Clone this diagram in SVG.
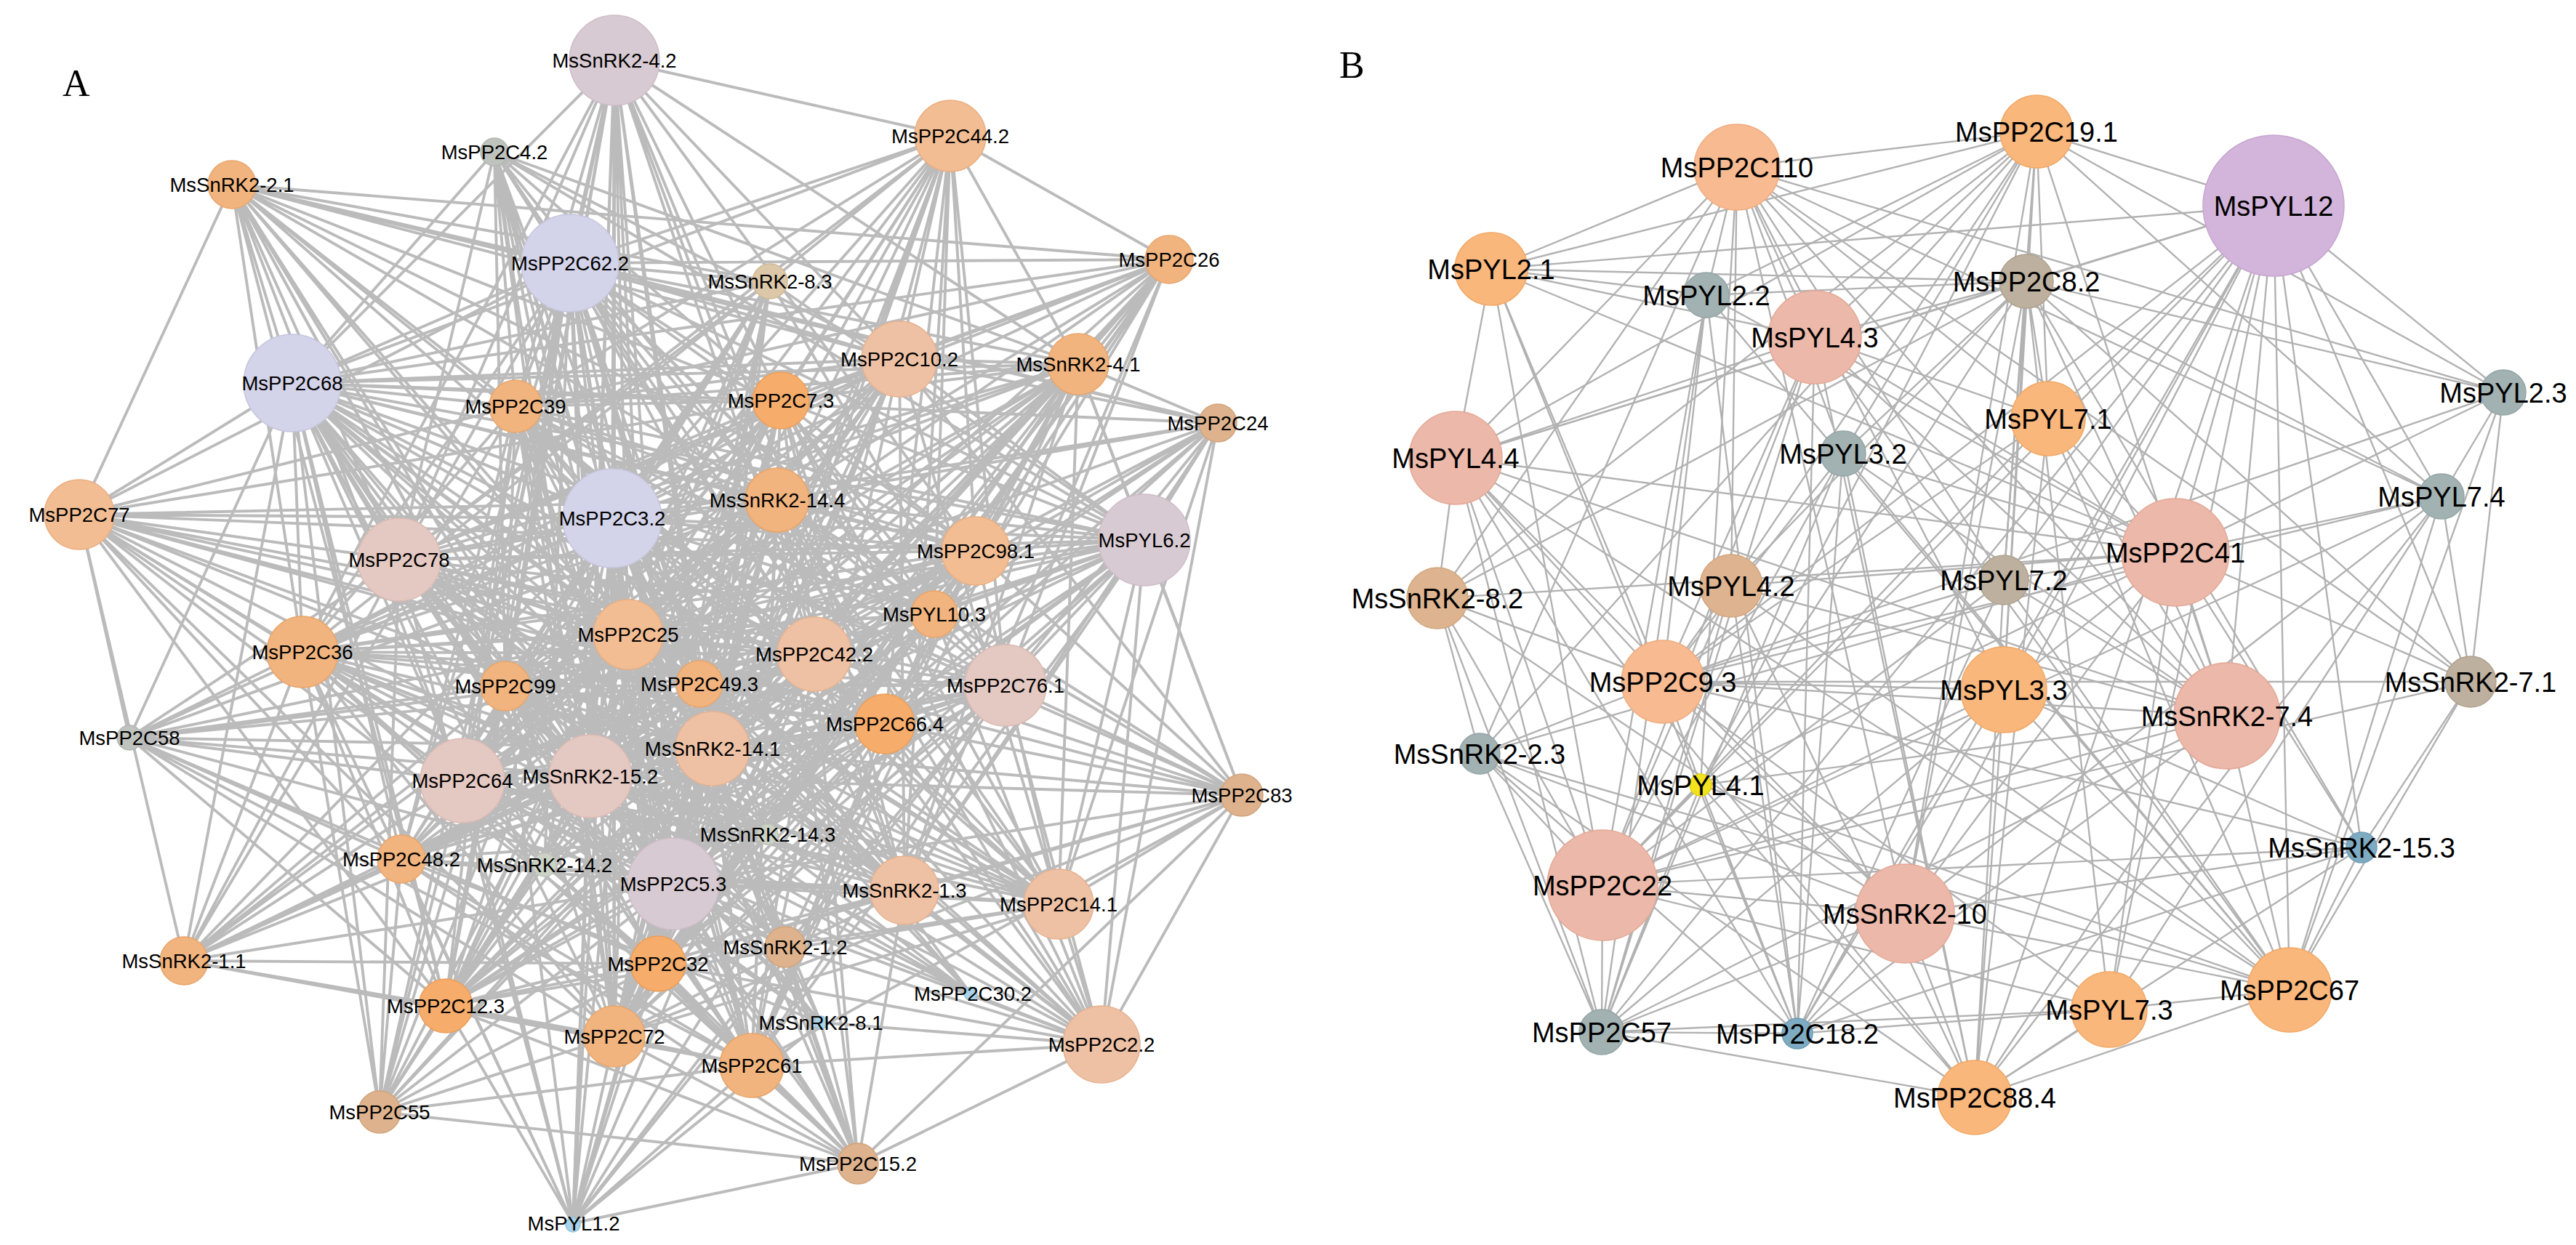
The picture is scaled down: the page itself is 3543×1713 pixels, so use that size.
<svg xmlns="http://www.w3.org/2000/svg" width="3543" height="1713" viewBox="0 0 3543 1713">
<style>
.ea{fill:none;stroke:#BBBBBB;stroke-width:3.9;stroke-linecap:round}
.eb{fill:none;stroke:#B2B2B2;stroke-width:2.4;stroke-linecap:round}
text{font-family:"Liberation Sans",Arial,sans-serif;fill:#000;text-anchor:middle}
.la text{font-size:27.5px}
.lb text{font-size:38px}
.panel{font-family:"Liberation Serif","Times New Roman",serif;font-size:52px;text-anchor:start}
circle{stroke-width:1.5}
.li{fill:#D8CAD2;stroke:#CDBCC6}
.la1{fill:#D3D3E9;stroke:#C6C6DE}
.pk{fill:#E4C8C2;stroke:#DBBAB3}
.pe{fill:#EEC1A4;stroke:#E6B290}
.po{fill:#F2BD93;stroke:#EAAE80}
.or{fill:#F1B47E;stroke:#E8A56C}
.os{fill:#F6AC6A;stroke:#EC9E5A}
.tn{fill:#DDB28D;stroke:#D2A47C}
.tl{fill:#DCC7A9;stroke:#CFB997}
.gy{fill:#BFC3BD;stroke:#B2B7B0}
.gg{fill:#CCD2C6;stroke:#C0C7B9}
.bl{fill:#A9D3EA;stroke:#95C4DE}
.blo{fill:#F7BA91;stroke:#F0AC7E}
.bor{fill:#F9B77C;stroke:#F1A866}
.bpk{fill:#ECB8A9;stroke:#E3A896}
.bgb{fill:#A2B1B1;stroke:#94A4A4}
.btp{fill:#BDB09F;stroke:#AFA18E}
.btn{fill:#DDB48F;stroke:#D1A57E}
.blv{fill:#D3B5DB;stroke:#C6A5CF}
.bbl{fill:#7EABC2;stroke:#6D9DB6}
.bye{fill:#F2E31E;stroke:#E5D40E}
</style>
<rect width="3543" height="1713" fill="#FFFFFF"/>
<text class="panel" x="86" y="132">A</text>
<text class="panel" x="1842" y="107">B</text>
<g id="connectors">
<g id="edges-A">
<path class="ea" d="M845 83L1307 187M845 83L784 362M845 83L402 527M845 83L709 559M845 83L1074 551M845 83L1237 494M845 83L1483 501M845 83L842 713M845 83L1069 688M845 83L1342 758M845 83L549 770M845 83L864 873M845 83L416 897M845 83L695 944M845 83L962 941M845 83L1120 900M845 83L980 1030M845 83L1217 996M845 83L636 1074M845 83L812 1068M845 83L926 1216M845 83L905 1326M845 83L613 1384M845 83L845 1426M845 83L1034 1466M845 83L522 1530M845 83L788 1683"/>
<path class="ea" d="M680 209L784 362M680 209L402 527M680 209L709 559M680 209L1074 551M680 209L1237 494M680 209L1483 501M680 209L842 713M680 209L1069 688M680 209L549 770M680 209L864 873M680 209L695 944M680 209L1120 900M680 209L980 1030M680 209L812 1068M680 209L926 1216M680 209L905 1326M680 209L845 1426M680 209L1034 1466M680 209L1574 743"/>
<path class="ea" d="M1307 187L784 362M1307 187L1059 387M1307 187L402 527M1307 187L709 559M1307 187L1074 551M1307 187L1237 494M1307 187L1483 501M1307 187L842 713M1307 187L1069 688M1307 187L1342 758M1307 187L549 770M1307 187L864 873M1307 187L1285 845M1307 187L1120 900M1307 187L1383 943M1307 187L980 1030M1307 187L1217 996M1307 187L636 1074M1307 187L812 1068M1307 187L926 1216M1307 187L1244 1225M1307 187L905 1326M1307 187L1608 357"/>
<path class="ea" d="M319 254L109 708M319 254L784 362M319 254L1608 357M319 254L402 527M319 254L709 559M319 254L1074 551M319 254L1237 494M319 254L842 713M319 254L1069 688M319 254L1342 758M319 254L549 770M319 254L864 873M319 254L416 897M319 254L695 944M319 254L1120 900M319 254L980 1030M319 254L636 1074M319 254L812 1068M319 254L926 1216M319 254L905 1326M319 254L613 1384M319 254L1059 387M319 254L1675 582"/>
<path class="ea" d="M1608 357L784 362M1608 357L402 527M1608 357L1074 551M1608 357L1237 494M1608 357L1483 501M1608 357L842 713M1608 357L1069 688M1608 357L1342 758M1608 357L864 873M1608 357L1285 845M1608 357L1120 900M1608 357L1383 943M1608 357L980 1030M1608 357L1217 996M1608 357L812 1068M1608 357L926 1216M1608 357L1244 1225M1608 357L905 1326M1608 357L845 1426M1608 357L549 770M1608 357L709 559"/>
<path class="ea" d="M1675 582L1237 494M1675 582L1483 501M1675 582L842 713M1675 582L1069 688M1675 582L1342 758M1675 582L1574 743M1675 582L864 873M1675 582L1285 845M1675 582L1120 900M1675 582L1383 943M1675 582L980 1030M1675 582L1217 996M1675 582L926 1216M1675 582L1244 1225M1675 582L1456 1244M1675 582L1515 1437M1675 582L402 527M1675 582L784 362"/>
<path class="ea" d="M109 708L178 1015M109 708L253 1322M109 708L784 362M109 708L402 527M109 708L709 559M109 708L842 713M109 708L1069 688M109 708L549 770M109 708L864 873M109 708L416 897M109 708L695 944M109 708L962 941M109 708L980 1030M109 708L636 1074M109 708L812 1068M109 708L926 1216M109 708L905 1326M109 708L613 1384M109 708L845 1426M109 708L1074 551M109 708L1342 758M109 708L1120 900M109 708L552 1182M109 708L1217 996"/>
<path class="ea" d="M178 1015L402 527M178 1015L842 713M178 1015L549 770M178 1015L864 873M178 1015L416 897M178 1015L695 944M178 1015L962 941M178 1015L980 1030M178 1015L636 1074M178 1015L812 1068M178 1015L926 1216M178 1015L905 1326M178 1015L613 1384M178 1015L845 1426M178 1015L1034 1466M178 1015L552 1182M178 1015L1120 900M178 1015L1069 688"/>
<path class="ea" d="M1708 1094L1574 743M1708 1094L1483 501M1708 1094L842 713M1708 1094L1069 688M1708 1094L1342 758M1708 1094L864 873M1708 1094L1285 845M1708 1094L1120 900M1708 1094L1383 943M1708 1094L980 1030M1708 1094L1217 996M1708 1094L812 1068M1708 1094L926 1216M1708 1094L1244 1225M1708 1094L1456 1244M1708 1094L1515 1437M1708 1094L905 1326M1708 1094L845 1426M1708 1094L1034 1466M1708 1094L1237 494M1708 1094L1180 1601"/>
<path class="ea" d="M253 1322L402 527M253 1322L709 559M253 1322L842 713M253 1322L549 770M253 1322L864 873M253 1322L416 897M253 1322L695 944M253 1322L636 1074M253 1322L812 1068M253 1322L552 1182M253 1322L926 1216M253 1322L905 1326M253 1322L613 1384M253 1322L845 1426M253 1322L1034 1466M253 1322L1120 900M253 1322L980 1030M253 1322L1069 688"/>
<path class="ea" d="M1515 1437L842 713M1515 1437L1069 688M1515 1437L1574 743M1515 1437L864 873M1515 1437L1285 845M1515 1437L1120 900M1515 1437L1383 943M1515 1437L980 1030M1515 1437L1217 996M1515 1437L812 1068M1515 1437L1056 1148M1515 1437L926 1216M1515 1437L1244 1225M1515 1437L1456 1244M1515 1437L905 1326M1515 1437L1080 1303M1515 1437L1335 1367M1515 1437L1129 1407M1515 1437L1034 1466M1515 1437L1180 1601M1515 1437L1074 551M1515 1437L962 941"/>
<path class="ea" d="M522 1530L402 527M522 1530L549 770M522 1530L864 873M522 1530L416 897M522 1530L695 944M522 1530L980 1030M522 1530L636 1074M522 1530L812 1068M522 1530L552 1182M522 1530L926 1216M522 1530L905 1326M522 1530L613 1384M522 1530L845 1426M522 1530L1034 1466M522 1530L1120 900M522 1530L842 713M522 1530L1069 688M522 1530L1180 1601"/>
<path class="ea" d="M1180 1601L842 713M1180 1601L1069 688M1180 1601L864 873M1180 1601L416 897M1180 1601L695 944M1180 1601L1120 900M1180 1601L980 1030M1180 1601L636 1074M1180 1601L812 1068M1180 1601L926 1216M1180 1601L905 1326M1180 1601L613 1384M1180 1601L845 1426M1180 1601L1034 1466M1180 1601L1244 1225M1180 1601L1080 1303M1180 1601L1129 1407M1180 1601L552 1182M1180 1601L788 1683"/>
<path class="ea" d="M788 1683L842 713M788 1683L1069 688M788 1683L549 770M788 1683L864 873M788 1683L416 897M788 1683L695 944M788 1683L1120 900M788 1683L980 1030M788 1683L636 1074M788 1683L812 1068M788 1683L926 1216M788 1683L905 1326M788 1683L613 1384M788 1683L845 1426M788 1683L1034 1466M788 1683L552 1182M788 1683L1217 996M788 1683L1383 943M788 1683L1080 1303M788 1683L1129 1407"/>
<path class="ea" d="M1574 743L784 362M1574 743L402 527M1574 743L1074 551M1574 743L1237 494M1574 743L1483 501M1574 743L842 713M1574 743L1069 688M1574 743L1342 758M1574 743L549 770M1574 743L864 873M1574 743L1285 845M1574 743L416 897M1574 743L695 944M1574 743L962 941M1574 743L1120 900M1574 743L1383 943M1574 743L980 1030M1574 743L1217 996M1574 743L636 1074M1574 743L812 1068M1574 743L552 1182M1574 743L926 1216M1574 743L1244 1225M1574 743L1456 1244M1574 743L905 1326M1574 743L613 1384M1574 743L845 1426M1574 743L1034 1466M1574 743L1059 387M1574 743L709 559"/>
<path class="ea" d="M784 362L1059 387M784 362L402 527M784 362L709 559M784 362L1074 551M784 362L1237 494M784 362L1483 501M784 362L842 713M784 362L1069 688M784 362L1342 758M784 362L549 770M784 362L864 873M784 362L1285 845M784 362L416 897M784 362L695 944M784 362L962 941M784 362L1120 900M784 362L1383 943M784 362L980 1030M784 362L1217 996M784 362L636 1074M784 362L812 1068M784 362L552 1182M784 362L926 1216M784 362L1244 1225M784 362L1456 1244M784 362L905 1326M784 362L613 1384M784 362L845 1426M784 362L1034 1466"/>
<path class="ea" d="M402 527L709 559M402 527L1074 551M402 527L1237 494M402 527L1483 501M402 527L842 713M402 527L1069 688M402 527L1342 758M402 527L549 770M402 527L864 873M402 527L1285 845M402 527L416 897M402 527L695 944M402 527L962 941M402 527L1120 900M402 527L1383 943M402 527L980 1030M402 527L1217 996M402 527L636 1074M402 527L812 1068M402 527L552 1182M402 527L926 1216M402 527L1244 1225M402 527L1456 1244M402 527L905 1326M402 527L613 1384M402 527L845 1426M402 527L1034 1466M402 527L1059 387"/>
<path class="ea" d="M842 713L709 559M842 713L1074 551M842 713L1237 494M842 713L1483 501M842 713L1069 688M842 713L1342 758M842 713L549 770M842 713L864 873M842 713L1285 845M842 713L416 897M842 713L695 944M842 713L962 941M842 713L1120 900M842 713L1383 943M842 713L980 1030M842 713L1217 996M842 713L636 1074M842 713L812 1068M842 713L552 1182M842 713L926 1216M842 713L1244 1225M842 713L1456 1244M842 713L905 1326M842 713L1080 1303M842 713L613 1384M842 713L845 1426M842 713L1034 1466M842 713L1059 387"/>
<path class="ea" d="M926 1216L709 559M926 1216L1074 551M926 1216L1237 494M926 1216L1483 501M926 1216L1069 688M926 1216L1342 758M926 1216L549 770M926 1216L864 873M926 1216L1285 845M926 1216L416 897M926 1216L695 944M926 1216L962 941M926 1216L1120 900M926 1216L1383 943M926 1216L980 1030M926 1216L1217 996M926 1216L636 1074M926 1216L812 1068M926 1216L552 1182M926 1216L1244 1225M926 1216L1456 1244M926 1216L905 1326M926 1216L613 1384M926 1216L845 1426M926 1216L1034 1466M926 1216L1059 387"/>
<path class="ea" d="M549 770L1074 551M549 770L1237 494M549 770L1483 501M549 770L1069 688M549 770L1342 758M549 770L864 873M549 770L1285 845M549 770L962 941M549 770L1120 900M549 770L1383 943M549 770L980 1030M549 770L1217 996M549 770L812 1068M549 770L1244 1225M549 770L1456 1244M549 770L905 1326M549 770L1034 1466"/>
<path class="ea" d="M636 1074L1074 551M636 1074L1237 494M636 1074L1483 501M636 1074L1069 688M636 1074L1342 758M636 1074L864 873M636 1074L1285 845M636 1074L962 941M636 1074L1120 900M636 1074L1383 943M636 1074L980 1030M636 1074L1217 996M636 1074L812 1068M636 1074L1244 1225M636 1074L1456 1244M636 1074L1034 1466M636 1074L709 559"/>
<path class="ea" d="M812 1068L709 559M812 1068L1074 551M812 1068L1237 494M812 1068L1483 501M812 1068L1069 688M812 1068L1342 758M812 1068L864 873M812 1068L1285 845M812 1068L416 897M812 1068L695 944M812 1068L1120 900M812 1068L1383 943M812 1068L1217 996M812 1068L552 1182M812 1068L1244 1225M812 1068L1456 1244M812 1068L613 1384M812 1068L845 1426"/>
<path class="ea" d="M1383 943L709 559M1383 943L1074 551M1383 943L1069 688M1383 943L864 873M1383 943L416 897M1383 943L695 944M1383 943L962 941M1383 943L980 1030M1383 943L1217 996M1383 943L552 1182M1383 943L905 1326M1383 943L613 1384M1383 943L845 1426M1383 943L1034 1466M1383 943L1059 387"/>
<path class="ea" d="M980 1030L709 559M980 1030L1074 551M980 1030L1237 494M980 1030L1483 501M980 1030L1069 688M980 1030L1342 758M980 1030L864 873M980 1030L416 897M980 1030L695 944M980 1030L1120 900M980 1030L1217 996M980 1030L552 1182M980 1030L1244 1225M980 1030L1456 1244M980 1030L613 1384M980 1030L845 1426"/>
<path class="ea" d="M1120 900L709 559M1120 900L1074 551M1120 900L1483 501M1120 900L1069 688M1120 900L864 873M1120 900L416 897M1120 900L695 944M1120 900L962 941M1120 900L552 1182M1120 900L905 1326M1120 900L613 1384M1120 900L845 1426M1120 900L1034 1466M1120 900L1244 1225M1120 900L1456 1244"/>
<path class="ea" d="M1237 494L709 559M1237 494L1074 551M1237 494L1069 688M1237 494L864 873M1237 494L416 897M1237 494L695 944M1237 494L962 941M1237 494L552 1182M1237 494L905 1326M1237 494L613 1384M1237 494L845 1426M1237 494L1034 1466M1237 494L1244 1225M1237 494L1456 1244M1237 494L1483 501"/>
<path class="ea" d="M864 873L709 559M864 873L1074 551M864 873L1483 501M864 873L1069 688M864 873L1342 758M864 873L1285 845M864 873L416 897M864 873L695 944M864 873L1217 996M864 873L552 1182M864 873L1244 1225M864 873L1456 1244M864 873L905 1326M864 873L613 1384M864 873L845 1426M864 873L1034 1466"/>
<path class="ea" d="M1244 1225L709 559M1244 1225L1074 551M1244 1225L1069 688M1244 1225L416 897M1244 1225L695 944M1244 1225L962 941M1244 1225L552 1182M1244 1225L905 1326M1244 1225L613 1384M1244 1225L845 1426M1244 1225L1483 501"/>
<path class="ea" d="M1456 1244L709 559M1456 1244L1074 551M1456 1244L1069 688M1456 1244L416 897M1456 1244L695 944M1456 1244L962 941M1456 1244L552 1182M1456 1244L905 1326M1456 1244L613 1384M1456 1244L845 1426M1456 1244L1483 501M1456 1244L1342 758"/>
<path class="ea" d="M1069 688L709 559M1069 688L416 897M1069 688L695 944M1069 688L962 941M1069 688L1217 996M1069 688L552 1182M1069 688L905 1326M1069 688L613 1384M1069 688L845 1426M1069 688L1034 1466M1069 688L1342 758M1069 688L1285 845"/>
<path class="ea" d="M1483 501L709 559M1483 501L1074 551M1483 501L1342 758M1483 501L1285 845M1483 501L416 897M1483 501L695 944M1483 501L962 941M1483 501L1217 996M1483 501L552 1182M1483 501L905 1326M1483 501L613 1384M1483 501L845 1426M1483 501L1034 1466"/>
<path class="ea" d="M416 897L709 559M416 897L1074 551M416 897L1342 758M416 897L1285 845M416 897L962 941M416 897L1217 996M416 897L905 1326M416 897L613 1384M416 897L845 1426M416 897L1034 1466M416 897L749 1190M416 897L1056 1148"/>
<path class="ea" d="M1342 758L709 559M1342 758L1074 551M1342 758L695 944M1342 758L962 941M1342 758L1217 996M1342 758L552 1182M1342 758L905 1326M1342 758L613 1384M1342 758L845 1426M1342 758L1034 1466M1342 758L749 1190"/>
<path class="ea" d="M1074 551L709 559M1074 551L695 944M1074 551L962 941M1074 551L1217 996M1074 551L552 1182M1074 551L905 1326M1074 551L613 1384M1074 551L845 1426M1074 551L1034 1466M1074 551L1285 845"/>
<path class="ea" d="M1217 996L709 559M1217 996L695 944M1217 996L962 941M1217 996L552 1182M1217 996L905 1326M1217 996L613 1384M1217 996L845 1426M1217 996L1034 1466M1217 996L749 1190"/>
<path class="ea" d="M905 1326L709 559M905 1326L1285 845M905 1326L695 944M905 1326L962 941M905 1326L613 1384M905 1326L845 1426M905 1326L1034 1466M905 1326L1056 1148M845 1426L709 559M845 1426L1285 845M845 1426L695 944M845 1426L962 941M845 1426L1034 1466M845 1426L613 1384M613 1384L709 559M613 1384L1285 845M613 1384L695 944M613 1384L962 941M613 1384L1034 1466M552 1182L709 559M552 1182L1285 845M552 1182L962 941M552 1182L1034 1466M552 1182L1056 1148M709 559L1285 845M709 559L695 944M709 559L962 941M709 559L1034 1466M1034 1466L695 944M1034 1466L962 941M1034 1466L1285 845"/>
<path class="ea" d="M1059 387L549 770M1059 387L864 873M1059 387L416 897M1059 387L695 944M1059 387L962 941M1059 387L980 1030M1059 387L636 1074M1059 387L812 1068M1059 387L552 1182M1059 387L905 1326M1059 387L613 1384M1059 387L845 1426"/>
<path class="ea" d="M1080 1303L549 770M1080 1303L416 897M1080 1303L636 1074M1080 1303L812 1068M1080 1303L402 527M1080 1303L784 362M1080 1303L864 873M1080 1303L1383 943M1080 1303L1342 758M1335 1367L549 770M1335 1367L416 897M1335 1367L636 1074M1335 1367L812 1068M1335 1367L842 713M1335 1367L864 873M1335 1367L695 944M1335 1367L962 941M1129 1407L549 770M1129 1407L416 897M1129 1407L636 1074M1129 1407L812 1068M1129 1407L402 527M1129 1407L842 713M1129 1407L864 873M1129 1407L695 944M1129 1407L552 1182M1056 1148L549 770M1056 1148L636 1074M1056 1148L812 1068M1056 1148L402 527M1056 1148L842 713M1056 1148L864 873M1056 1148L695 944M1056 1148L784 362M749 1190L402 527M749 1190L842 713M749 1190L864 873M749 1190L784 362M749 1190L1237 494M749 1190L1483 501M749 1190L1383 943"/>
</g>
<g id="edges-B">
<path class="eb" d="M2389 230L2801 181M2389 230L2051 370M2389 230L2347 406M2389 230L2496 464M2389 230L2817 576M2389 230L2002 630M2389 230L2535 624M2389 230L3358 683M2389 230L2756 798M2389 230L2381 806M2389 230L2756 949M2389 230L3063 985M2389 230L3398 938M2389 230L2035 1037M2389 230L2339 1080M2389 230L2620 1257M2389 230L3443 540M2389 230L1977 823"/>
<path class="eb" d="M2801 181L3127 283M2801 181L2051 370M2801 181L2347 406M2801 181L2496 464M2801 181L2817 576M2801 181L2002 630M2801 181L2535 624M2801 181L3358 683M2801 181L2756 798M2801 181L2381 806M2801 181L2756 949M2801 181L3063 985M2801 181L2035 1037M2801 181L2620 1257M2801 181L3443 540M2801 181L1977 823M2801 181L2339 1080"/>
<path class="eb" d="M2787 387L3127 283M2787 387L2051 370M2787 387L2347 406M2787 387L2496 464M2787 387L3443 540M2787 387L2817 576M2787 387L2002 630M2787 387L2535 624M2787 387L3358 683M2787 387L2756 798M2787 387L1977 823M2787 387L2756 949M2787 387L3063 985M2787 387L3398 938M2787 387L2620 1257M2787 387L2901 1389M2787 387L3248 1166M2787 387L2339 1080M2787 387L2381 806"/>
<path class="eb" d="M2992 760L3127 283M2992 760L2051 370M2992 760L2347 406M2992 760L2496 464M2992 760L3443 540M2992 760L2817 576M2992 760L2002 630M2992 760L2535 624M2992 760L3358 683M2992 760L2756 798M2992 760L1977 823M2992 760L2381 806M2992 760L2756 949M2992 760L3063 985M2992 760L3398 938M2992 760L2035 1037M2992 760L2339 1080M2992 760L3248 1166M2992 760L2620 1257M2992 760L2901 1389"/>
<path class="eb" d="M2287 938L3127 283M2287 938L2051 370M2287 938L2347 406M2287 938L2496 464M2287 938L2817 576M2287 938L2002 630M2287 938L2535 624M2287 938L3358 683M2287 938L2756 798M2287 938L1977 823M2287 938L2381 806M2287 938L2756 949M2287 938L3063 985M2287 938L3398 938M2287 938L2035 1037M2287 938L2339 1080M2287 938L3248 1166M2287 938L2620 1257M2287 938L2901 1389M2287 938L3443 540"/>
<path class="eb" d="M2204 1218L3127 283M2204 1218L2051 370M2204 1218L2347 406M2204 1218L2496 464M2204 1218L2817 576M2204 1218L2002 630M2204 1218L2535 624M2204 1218L3358 683M2204 1218L2756 798M2204 1218L1977 823M2204 1218L2381 806M2204 1218L2756 949M2204 1218L3063 985M2204 1218L2035 1037M2204 1218L2339 1080M2204 1218L3248 1166M2204 1218L2620 1257M2204 1218L2901 1389M2204 1218L3398 938"/>
<path class="eb" d="M3149 1362L3127 283M3149 1362L2347 406M3149 1362L2496 464M3149 1362L3443 540M3149 1362L2817 576M3149 1362L2002 630M3149 1362L2535 624M3149 1362L3358 683M3149 1362L2756 798M3149 1362L2381 806M3149 1362L2756 949M3149 1362L3063 985M3149 1362L3398 938M3149 1362L2339 1080M3149 1362L3248 1166M3149 1362L2620 1257M3149 1362L2901 1389M3149 1362L2035 1037"/>
<path class="eb" d="M2203 1420L3127 283M2203 1420L2496 464M2203 1420L2002 630M2203 1420L2535 624M2203 1420L1977 823M2203 1420L2381 806M2203 1420L2756 949M2203 1420L3063 985M2203 1420L2035 1037M2203 1420L2339 1080M2203 1420L2620 1257M2203 1420L2901 1389M2203 1420L2347 406M2203 1420L2204 1218M2203 1420L2472 1422M2203 1420L2716 1510"/>
<path class="eb" d="M2472 1422L3127 283M2472 1422L2051 370M2472 1422L2347 406M2472 1422L2496 464M2472 1422L2002 630M2472 1422L2535 624M2472 1422L2756 798M2472 1422L2381 806M2472 1422L2756 949M2472 1422L3063 985M2472 1422L2035 1037M2472 1422L2339 1080M2472 1422L3248 1166M2472 1422L2620 1257M2472 1422L2901 1389"/>
<path class="eb" d="M2716 1510L3127 283M2716 1510L2496 464M2716 1510L2817 576M2716 1510L2002 630M2716 1510L2535 624M2716 1510L2756 798M2716 1510L2381 806M2716 1510L2756 949M2716 1510L3063 985M2716 1510L2339 1080M2716 1510L3248 1166M2716 1510L2620 1257M2716 1510L2901 1389M2716 1510L3358 683M2716 1510L2035 1037M2716 1510L3149 1362"/>
<path class="eb" d="M3127 283L3443 540M3127 283L3358 683M3127 283L3398 938M3127 283L3248 1166M3127 283L3063 985M3127 283L2756 949M3127 283L2620 1257M3127 283L2901 1389M3127 283L2817 576M3127 283L2756 798M3127 283L2051 370M3127 283L2002 630"/>
<path class="eb" d="M2051 370L2002 630M2002 630L1977 823M1977 823L2035 1037M3443 540L3358 683M3358 683L3398 938M3443 540L3398 938M3398 938L3248 1166M2051 370L2347 406M2051 370L2496 464M2002 630L2496 464M2002 630L3063 985M2002 630L2620 1257M1977 823L2620 1257M2035 1037L2620 1257M2496 464L2817 576M2496 464L3063 985M2817 576L3063 985M2535 624L3063 985M2756 798L3063 985M2381 806L3063 985M2339 1080L3063 985M3248 1166L2620 1257M2756 949L3248 1166M3358 683L2901 1389M3358 683L2620 1257"/>
</g>
</g>
<g id="nodes-A" class="la">
<g id="A-MsSnRK2-4.2"><circle class="li" cx="845" cy="83" r="62"/><text x="845" y="93">MsSnRK2-4.2</text></g>
<g id="A-MsPP2C4.2"><circle class="gy" cx="680" cy="209" r="19"/><text x="680" y="219">MsPP2C4.2</text></g>
<g id="A-MsPP2C44.2"><circle class="po" cx="1307" cy="187" r="49"/><text x="1307" y="197">MsPP2C44.2</text></g>
<g id="A-MsSnRK2-2.1"><circle class="or" cx="319" cy="254" r="33"/><text x="319" y="264">MsSnRK2-2.1</text></g>
<g id="A-MsPP2C62.2"><circle class="la1" cx="784" cy="362" r="67"/><text x="784" y="372">MsPP2C62.2</text></g>
<g id="A-MsSnRK2-8.3"><circle class="tl" cx="1059" cy="387" r="24"/><text x="1059" y="397">MsSnRK2-8.3</text></g>
<g id="A-MsPP2C26"><circle class="or" cx="1608" cy="357" r="33"/><text x="1608" y="367">MsPP2C26</text></g>
<g id="A-MsPP2C68"><circle class="la1" cx="402" cy="527" r="67"/><text x="402" y="537">MsPP2C68</text></g>
<g id="A-MsPP2C39"><circle class="or" cx="709" cy="559" r="36"/><text x="709" y="569">MsPP2C39</text></g>
<g id="A-MsPP2C7.3"><circle class="os" cx="1074" cy="551" r="39"/><text x="1074" y="561">MsPP2C7.3</text></g>
<g id="A-MsPP2C10.2"><circle class="pe" cx="1237" cy="494" r="52"/><text x="1237" y="504">MsPP2C10.2</text></g>
<g id="A-MsSnRK2-4.1"><circle class="or" cx="1483" cy="501" r="42"/><text x="1483" y="511">MsSnRK2-4.1</text></g>
<g id="A-MsPP2C24"><circle class="tn" cx="1675" cy="582" r="26"/><text x="1675" y="592">MsPP2C24</text></g>
<g id="A-MsPP2C77"><circle class="po" cx="109" cy="708" r="48"/><text x="109" y="718">MsPP2C77</text></g>
<g id="A-MsPP2C3.2"><circle class="la1" cx="842" cy="713" r="68"/><text x="842" y="723">MsPP2C3.2</text></g>
<g id="A-MsSnRK2-14.4"><circle class="or" cx="1069" cy="688" r="44"/><text x="1069" y="698">MsSnRK2-14.4</text></g>
<g id="A-MsPP2C98.1"><circle class="po" cx="1342" cy="758" r="47"/><text x="1342" y="768">MsPP2C98.1</text></g>
<g id="A-MsPYL6.2"><circle class="li" cx="1574" cy="743" r="63"/><text x="1574" y="753">MsPYL6.2</text></g>
<g id="A-MsPP2C78"><circle class="pk" cx="549" cy="770" r="57"/><text x="549" y="780">MsPP2C78</text></g>
<g id="A-MsPP2C25"><circle class="po" cx="864" cy="873" r="48"/><text x="864" y="883">MsPP2C25</text></g>
<g id="A-MsPYL10.3"><circle class="or" cx="1285" cy="845" r="32"/><text x="1285" y="855">MsPYL10.3</text></g>
<g id="A-MsPP2C36"><circle class="or" cx="416" cy="897" r="49"/><text x="416" y="907">MsPP2C36</text></g>
<g id="A-MsPP2C99"><circle class="or" cx="695" cy="944" r="34"/><text x="695" y="954">MsPP2C99</text></g>
<g id="A-MsPP2C49.3"><circle class="or" cx="962" cy="941" r="32"/><text x="962" y="951">MsPP2C49.3</text></g>
<g id="A-MsPP2C42.2"><circle class="pe" cx="1120" cy="900" r="51"/><text x="1120" y="910">MsPP2C42.2</text></g>
<g id="A-MsPP2C76.1"><circle class="pk" cx="1383" cy="943" r="56"/><text x="1383" y="953">MsPP2C76.1</text></g>
<g id="A-MsPP2C58"><circle class="gy" cx="178" cy="1015" r="17"/><text x="178" y="1025">MsPP2C58</text></g>
<g id="A-MsSnRK2-14.1"><circle class="pe" cx="980" cy="1030" r="51"/><text x="980" y="1040">MsSnRK2-14.1</text></g>
<g id="A-MsPP2C66.4"><circle class="os" cx="1217" cy="996" r="41"/><text x="1217" y="1006">MsPP2C66.4</text></g>
<g id="A-MsPP2C64"><circle class="pk" cx="636" cy="1074" r="58"/><text x="636" y="1084">MsPP2C64</text></g>
<g id="A-MsSnRK2-15.2"><circle class="pk" cx="812" cy="1068" r="57"/><text x="812" y="1078">MsSnRK2-15.2</text></g>
<g id="A-MsPP2C83"><circle class="tn" cx="1708" cy="1094" r="29"/><text x="1708" y="1104">MsPP2C83</text></g>
<g id="A-MsSnRK2-14.3"><circle class="gg" cx="1056" cy="1148" r="14"/><text x="1056" y="1158">MsSnRK2-14.3</text></g>
<g id="A-MsPP2C48.2"><circle class="or" cx="552" cy="1182" r="33"/><text x="552" y="1192">MsPP2C48.2</text></g>
<g id="A-MsSnRK2-14.2"><circle class="gg" cx="749" cy="1190" r="16"/><text x="749" y="1200">MsSnRK2-14.2</text></g>
<g id="A-MsPP2C5.3"><circle class="li" cx="926" cy="1216" r="63"/><text x="926" y="1226">MsPP2C5.3</text></g>
<g id="A-MsSnRK2-1.3"><circle class="pe" cx="1244" cy="1225" r="47"/><text x="1244" y="1235">MsSnRK2-1.3</text></g>
<g id="A-MsPP2C14.1"><circle class="pe" cx="1456" cy="1244" r="48"/><text x="1456" y="1254">MsPP2C14.1</text></g>
<g id="A-MsSnRK2-1.1"><circle class="or" cx="253" cy="1322" r="33"/><text x="253" y="1332">MsSnRK2-1.1</text></g>
<g id="A-MsPP2C32"><circle class="os" cx="905" cy="1326" r="38"/><text x="905" y="1336">MsPP2C32</text></g>
<g id="A-MsSnRK2-1.2"><circle class="tn" cx="1080" cy="1303" r="28"/><text x="1080" y="1313">MsSnRK2-1.2</text></g>
<g id="A-MsPP2C12.3"><circle class="os" cx="613" cy="1384" r="37"/><text x="613" y="1394">MsPP2C12.3</text></g>
<g id="A-MsPP2C30.2"><circle class="bl" cx="1335" cy="1367" r="9"/><text x="1338" y="1377">MsPP2C30.2</text></g>
<g id="A-MsPP2C72"><circle class="or" cx="845" cy="1426" r="42"/><text x="845" y="1436">MsPP2C72</text></g>
<g id="A-MsSnRK2-8.1"><circle class="bl" cx="1129" cy="1407" r="9"/><text x="1129" y="1417">MsSnRK2-8.1</text></g>
<g id="A-MsPP2C61"><circle class="or" cx="1034" cy="1466" r="44"/><text x="1034" y="1476">MsPP2C61</text></g>
<g id="A-MsPP2C2.2"><circle class="pe" cx="1515" cy="1437" r="53"/><text x="1515" y="1447">MsPP2C2.2</text></g>
<g id="A-MsPP2C55"><circle class="tn" cx="522" cy="1530" r="29"/><text x="522" y="1540">MsPP2C55</text></g>
<g id="A-MsPP2C15.2"><circle class="tn" cx="1180" cy="1601" r="28"/><text x="1180" y="1611">MsPP2C15.2</text></g>
<g id="A-MsPYL1.2"><circle class="bl" cx="788" cy="1685" r="10"/><text x="789" y="1693">MsPYL1.2</text></g>
</g>
<g id="nodes-B" class="lb">
<g id="B-MsPP2C110"><circle class="blo" cx="2389" cy="230" r="59"/><text x="2389" y="244">MsPP2C110</text></g>
<g id="B-MsPP2C19.1"><circle class="bor" cx="2801" cy="181" r="50"/><text x="2801" y="195">MsPP2C19.1</text></g>
<g id="B-MsPYL12"><circle class="blv" cx="3127" cy="283" r="97"/><text x="3127" y="297">MsPYL12</text></g>
<g id="B-MsPYL2.1"><circle class="bor" cx="2051" cy="370" r="50"/><text x="2051" y="384">MsPYL2.1</text></g>
<g id="B-MsPYL2.2"><circle class="bgb" cx="2347" cy="406" r="31"/><text x="2347" y="420">MsPYL2.2</text></g>
<g id="B-MsPP2C8.2"><circle class="btp" cx="2787" cy="387" r="37"/><text x="2787" y="401">MsPP2C8.2</text></g>
<g id="B-MsPYL4.3"><circle class="bpk" cx="2496" cy="464" r="64"/><text x="2496" y="478">MsPYL4.3</text></g>
<g id="B-MsPYL2.3"><circle class="bgb" cx="3443" cy="540" r="31"/><text x="3443" y="554">MsPYL2.3</text></g>
<g id="B-MsPYL7.1"><circle class="bor" cx="2817" cy="576" r="51"/><text x="2817" y="590">MsPYL7.1</text></g>
<g id="B-MsPYL4.4"><circle class="bpk" cx="2002" cy="630" r="64"/><text x="2002" y="644">MsPYL4.4</text></g>
<g id="B-MsPYL3.2"><circle class="bgb" cx="2535" cy="624" r="31"/><text x="2535" y="638">MsPYL3.2</text></g>
<g id="B-MsPYL7.4"><circle class="bgb" cx="3358" cy="683" r="31"/><text x="3358" y="697">MsPYL7.4</text></g>
<g id="B-MsPP2C41"><circle class="bpk" cx="2992" cy="760" r="74"/><text x="2992" y="774">MsPP2C41</text></g>
<g id="B-MsPYL7.2"><circle class="btp" cx="2756" cy="798" r="34"/><text x="2756" y="812">MsPYL7.2</text></g>
<g id="B-MsSnRK2-8.2"><circle class="btn" cx="1977" cy="823" r="42"/><text x="1977" y="837">MsSnRK2-8.2</text></g>
<g id="B-MsPYL4.2"><circle class="btn" cx="2381" cy="806" r="43"/><text x="2381" y="820">MsPYL4.2</text></g>
<g id="B-MsPP2C9.3"><circle class="blo" cx="2287" cy="938" r="57"/><text x="2287" y="952">MsPP2C9.3</text></g>
<g id="B-MsPYL3.3"><circle class="bor" cx="2756" cy="949" r="59"/><text x="2756" y="963">MsPYL3.3</text></g>
<g id="B-MsSnRK2-7.4"><circle class="bpk" cx="3063" cy="985" r="73"/><text x="3063" y="999">MsSnRK2-7.4</text></g>
<g id="B-MsSnRK2-7.1"><circle class="btp" cx="3398" cy="938" r="35"/><text x="3398" y="952">MsSnRK2-7.1</text></g>
<g id="B-MsSnRK2-2.3"><circle class="bgb" cx="2035" cy="1037" r="28"/><text x="2035" y="1051">MsSnRK2-2.3</text></g>
<g id="B-MsPYL4.1"><circle class="bye" cx="2339" cy="1080" r="15"/><text x="2339" y="1094">MsPYL4.1</text></g>
<g id="B-MsSnRK2-15.3"><circle class="bbl" cx="3248" cy="1166" r="21"/><text x="3248" y="1180">MsSnRK2-15.3</text></g>
<g id="B-MsPP2C22"><circle class="bpk" cx="2204" cy="1218" r="76"/><text x="2204" y="1232">MsPP2C22</text></g>
<g id="B-MsSnRK2-10"><circle class="bpk" cx="2620" cy="1257" r="68"/><text x="2620" y="1271">MsSnRK2-10</text></g>
<g id="B-MsPP2C67"><circle class="bor" cx="3149" cy="1362" r="58"/><text x="3149" y="1376">MsPP2C67</text></g>
<g id="B-MsPYL7.3"><circle class="bor" cx="2901" cy="1389" r="52"/><text x="2901" y="1403">MsPYL7.3</text></g>
<g id="B-MsPP2C57"><circle class="bgb" cx="2203" cy="1420" r="31"/><text x="2203" y="1434">MsPP2C57</text></g>
<g id="B-MsPP2C18.2"><circle class="bbl" cx="2472" cy="1422" r="21"/><text x="2472" y="1436">MsPP2C18.2</text></g>
<g id="B-MsPP2C88.4"><circle class="bor" cx="2716" cy="1510" r="51"/><text x="2716" y="1524">MsPP2C88.4</text></g>
</g>
</svg>
